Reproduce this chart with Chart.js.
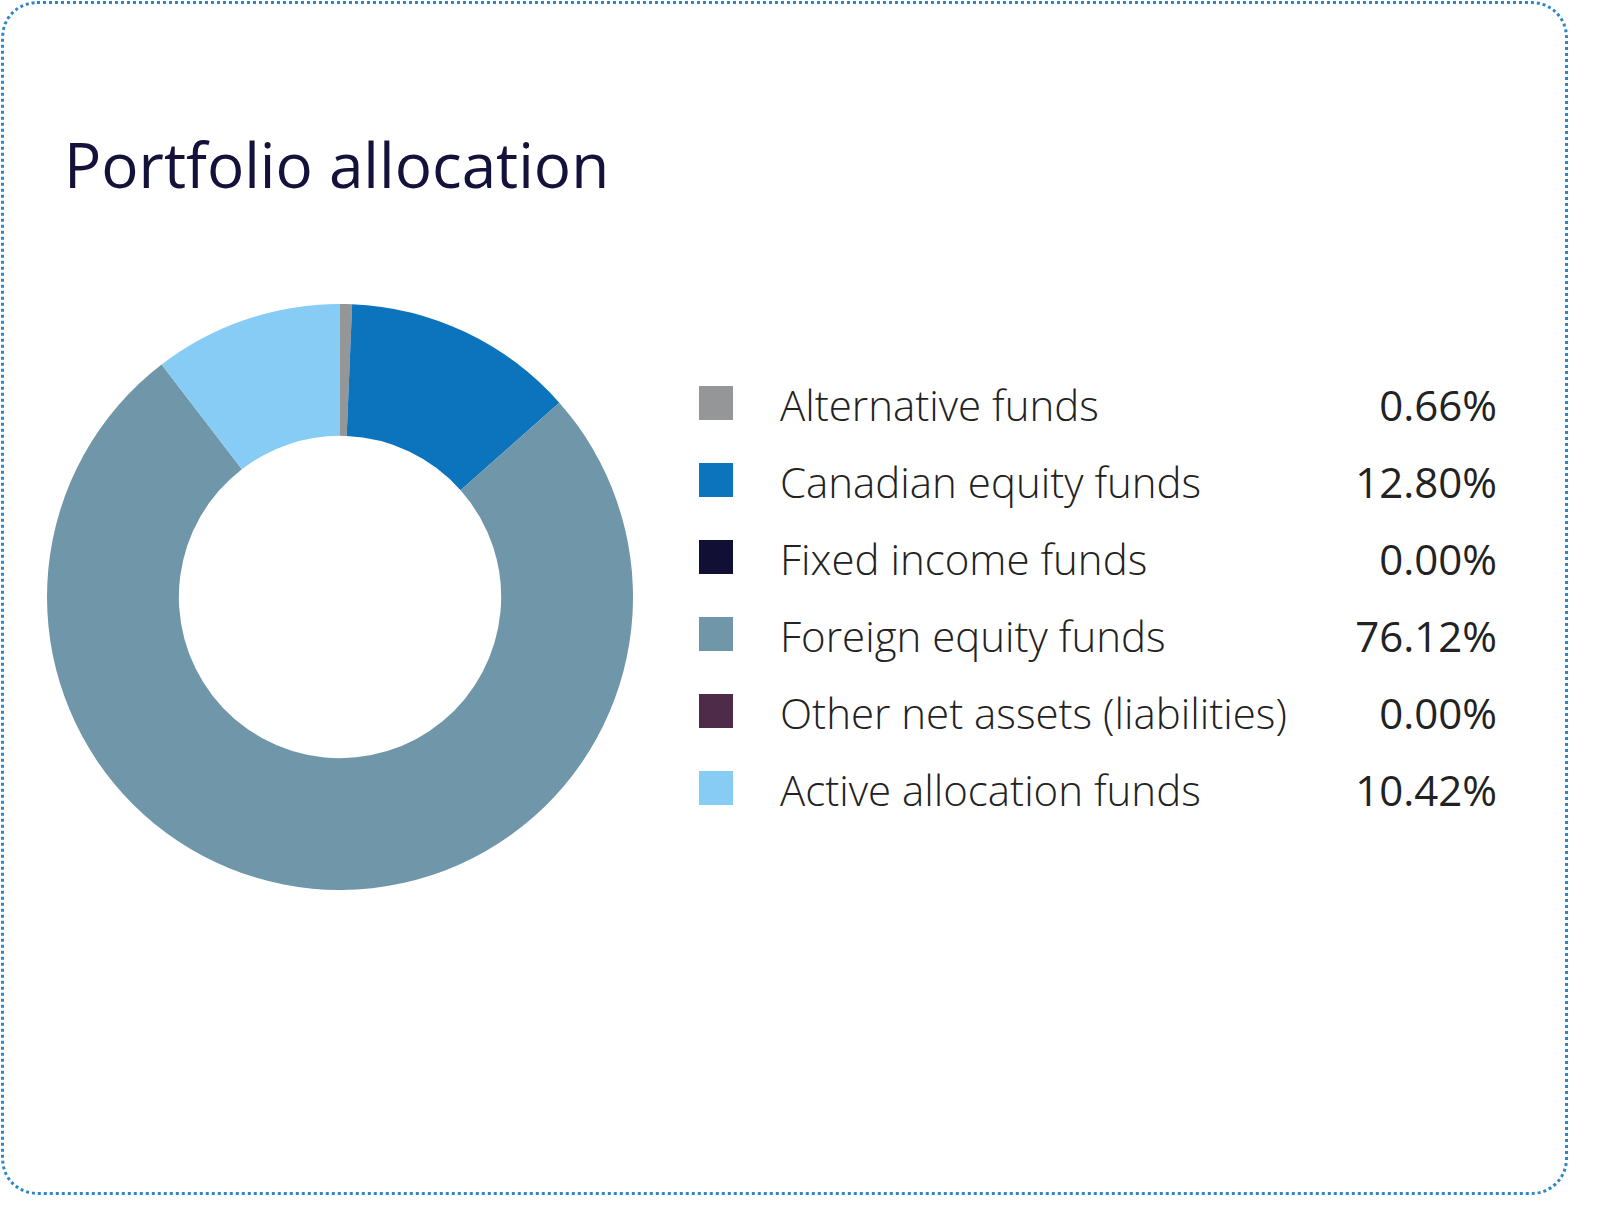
<!DOCTYPE html>
<html><head><meta charset="utf-8">
<script src="https://cdn.jsdelivr.net/npm/chart.js@4"></script>
<style>
html,body{margin:0;padding:0;background:#fff;}
body{width:1597px;height:1217px;position:relative;font-family:"Open Sans",sans-serif;overflow:hidden;}
#frame{position:absolute;left:1px;top:1px;width:1561px;height:1188px;border:3px dotted #2f86c6;border-radius:36px;}
#title{position:absolute;left:64px;top:122px;font-size:62px;color:#14123a;white-space:nowrap;}
#wrap{position:absolute;left:47px;top:304px;width:586px;height:586px;}
#legend{position:absolute;left:699px;top:380px;width:800px;}
.row{position:relative;height:77px;}
.sw{position:absolute;left:0;top:6px;width:34px;height:34px;}
.lb{position:absolute;left:81px;top:-4px;font-size:42px;color:#222;white-space:nowrap;font-weight:300;}
.val{position:absolute;right:2px;top:-4px;font-size:42px;color:#222;white-space:nowrap;font-weight:400;}
</style></head><body>
<div id="frame"></div>
<div id="title">Portfolio allocation</div>
<div id="wrap"><canvas id="c" width="586" height="586"></canvas></div>
<div id="legend"></div>
<script>
const categories=["Alternative funds","Canadian equity funds","Fixed income funds","Foreign equity funds","Other net assets (liabilities)","Active allocation funds"];
const values=[0.66,12.80,0.00,76.12,0.00,10.42];
const colors=["#959698","#0c73bd","#110f33","#7096aa","#4e2b48","#86ccf4"];
const lg=document.getElementById('legend');
categories.forEach((c,i)=>{
  const r=document.createElement('div');r.className='row';
  r.innerHTML='<div class="sw" style="background:'+colors[i]+'"></div><div class="lb">'+c+'</div><div class="val">'+values[i].toFixed(2)+'%</div>';
  lg.appendChild(r);
});
new Chart(document.getElementById('c'),{
  type:'doughnut',
  data:{labels:categories,datasets:[{data:values,backgroundColor:colors,borderWidth:0}]},
  options:{responsive:false,animation:false,cutout:'55%',layout:{padding:0},
    plugins:{legend:{display:false},tooltip:{enabled:false}}}
});
</script>
</body></html>
